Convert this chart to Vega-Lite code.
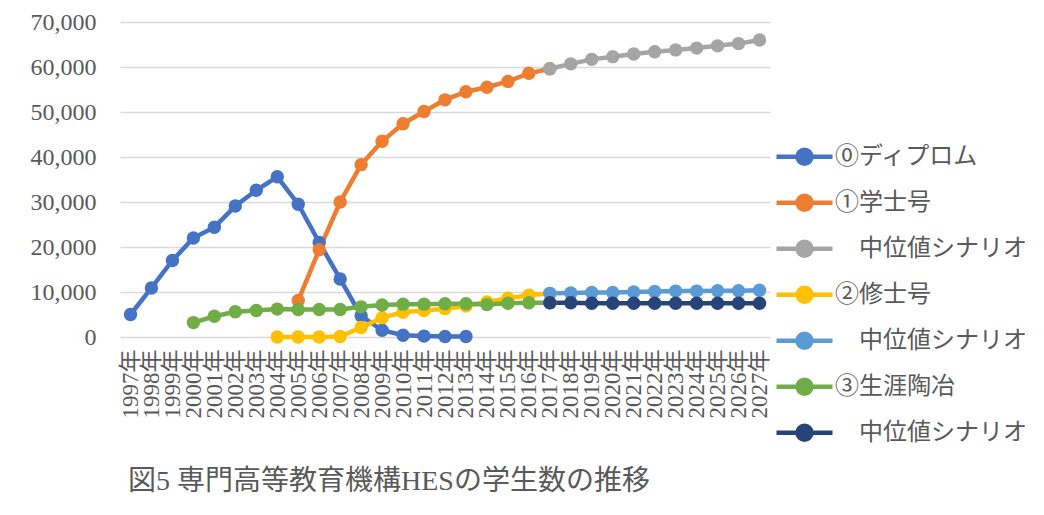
{
  "$schema": "https://vega.github.io/schema/vega-lite/v6.json",
  "autosize": {"type": "none"},
  "width": 650,
  "height": 315,
  "padding": {"left": 120, "top": 22, "right": 274, "bottom": 178},
  "background": "white",
  "title": {
    "text": "図5 専門高等教育機構HESの学生数の推移",
    "orient": "bottom",
    "anchor": "start",
    "frame": "group",
    "dx": 8,
    "offset": 12,
    "fontSize": 28,
    "fontWeight": "normal",
    "font": "Liberation Serif, Noto Sans CJK JP",
    "color": "#595959"
  },
  "config": {
    "view": {"stroke": null},
    "font": "Liberation Serif, Noto Sans CJK JP"
  },
  "data": {
    "values": [
      {"series": "s0", "year": 1997, "value": 5000},
      {"series": "s0", "year": 1998, "value": 10900},
      {"series": "s0", "year": 1999, "value": 17000},
      {"series": "s0", "year": 2000, "value": 22000},
      {"series": "s0", "year": 2001, "value": 24400},
      {"series": "s0", "year": 2002, "value": 29100},
      {"series": "s0", "year": 2003, "value": 32600},
      {"series": "s0", "year": 2004, "value": 35600},
      {"series": "s0", "year": 2005, "value": 29500},
      {"series": "s0", "year": 2006, "value": 21000},
      {"series": "s0", "year": 2007, "value": 12900},
      {"series": "s0", "year": 2008, "value": 4700},
      {"series": "s0", "year": 2009, "value": 1500},
      {"series": "s0", "year": 2010, "value": 400},
      {"series": "s0", "year": 2011, "value": 200},
      {"series": "s0", "year": 2012, "value": 100},
      {"series": "s0", "year": 2013, "value": 100},
      {"series": "s1", "year": 2005, "value": 8100},
      {"series": "s1", "year": 2006, "value": 19400},
      {"series": "s1", "year": 2007, "value": 30000},
      {"series": "s1", "year": 2008, "value": 38300},
      {"series": "s1", "year": 2009, "value": 43500},
      {"series": "s1", "year": 2010, "value": 47400},
      {"series": "s1", "year": 2011, "value": 50100},
      {"series": "s1", "year": 2012, "value": 52700},
      {"series": "s1", "year": 2013, "value": 54500},
      {"series": "s1", "year": 2014, "value": 55500},
      {"series": "s1", "year": 2015, "value": 56800},
      {"series": "s1", "year": 2016, "value": 58600},
      {"series": "s1", "year": 2017, "value": 59600},
      {"series": "s2", "year": 2017, "value": 59600},
      {"series": "s2", "year": 2018, "value": 60700},
      {"series": "s2", "year": 2019, "value": 61700},
      {"series": "s2", "year": 2020, "value": 62300},
      {"series": "s2", "year": 2021, "value": 62900},
      {"series": "s2", "year": 2022, "value": 63400},
      {"series": "s2", "year": 2023, "value": 63800},
      {"series": "s2", "year": 2024, "value": 64200},
      {"series": "s2", "year": 2025, "value": 64700},
      {"series": "s2", "year": 2026, "value": 65200},
      {"series": "s2", "year": 2027, "value": 66000},
      {"series": "s3", "year": 2004, "value": 0},
      {"series": "s3", "year": 2005, "value": 0},
      {"series": "s3", "year": 2006, "value": 0},
      {"series": "s3", "year": 2007, "value": 100},
      {"series": "s3", "year": 2008, "value": 2100},
      {"series": "s3", "year": 2009, "value": 4300},
      {"series": "s3", "year": 2010, "value": 5500},
      {"series": "s3", "year": 2011, "value": 5900},
      {"series": "s3", "year": 2012, "value": 6300},
      {"series": "s3", "year": 2013, "value": 6900},
      {"series": "s3", "year": 2014, "value": 7800},
      {"series": "s3", "year": 2015, "value": 8600},
      {"series": "s3", "year": 2016, "value": 9300},
      {"series": "s3", "year": 2017, "value": 9700},
      {"series": "s4", "year": 2017, "value": 9700},
      {"series": "s4", "year": 2018, "value": 9800},
      {"series": "s4", "year": 2019, "value": 9900},
      {"series": "s4", "year": 2020, "value": 9900},
      {"series": "s4", "year": 2021, "value": 10000},
      {"series": "s4", "year": 2022, "value": 10100},
      {"series": "s4", "year": 2023, "value": 10200},
      {"series": "s4", "year": 2024, "value": 10200},
      {"series": "s4", "year": 2025, "value": 10300},
      {"series": "s4", "year": 2026, "value": 10300},
      {"series": "s4", "year": 2027, "value": 10400},
      {"series": "s5", "year": 2000, "value": 3200},
      {"series": "s5", "year": 2001, "value": 4600},
      {"series": "s5", "year": 2002, "value": 5600},
      {"series": "s5", "year": 2003, "value": 5900},
      {"series": "s5", "year": 2004, "value": 6200},
      {"series": "s5", "year": 2005, "value": 6100},
      {"series": "s5", "year": 2006, "value": 6100},
      {"series": "s5", "year": 2007, "value": 6100},
      {"series": "s5", "year": 2008, "value": 6700},
      {"series": "s5", "year": 2009, "value": 7100},
      {"series": "s5", "year": 2010, "value": 7300},
      {"series": "s5", "year": 2011, "value": 7300},
      {"series": "s5", "year": 2012, "value": 7400},
      {"series": "s5", "year": 2013, "value": 7400},
      {"series": "s5", "year": 2014, "value": 7200},
      {"series": "s5", "year": 2015, "value": 7500},
      {"series": "s5", "year": 2016, "value": 7600},
      {"series": "s5", "year": 2017, "value": 7600},
      {"series": "s6", "year": 2017, "value": 7600},
      {"series": "s6", "year": 2018, "value": 7600},
      {"series": "s6", "year": 2019, "value": 7500},
      {"series": "s6", "year": 2020, "value": 7500},
      {"series": "s6", "year": 2021, "value": 7500},
      {"series": "s6", "year": 2022, "value": 7500},
      {"series": "s6", "year": 2023, "value": 7500},
      {"series": "s6", "year": 2024, "value": 7500},
      {"series": "s6", "year": 2025, "value": 7500},
      {"series": "s6", "year": 2026, "value": 7500},
      {"series": "s6", "year": 2027, "value": 7500}
    ]
  },
  "mark": {"type": "line", "strokeWidth": 4.5, "point": {"size": 180, "filled": true, "opacity": 1}},
  "encoding": {
    "x": {
      "field": "year",
      "type": "ordinal",
      "scale": {"type": "point", "padding": 0.5, "domain": [1997,1998,1999,2000,2001,2002,2003,2004,2005,2006,2007,2008,2009,2010,2011,2012,2013,2014,2015,2016,2017,2018,2019,2020,2021,2022,2023,2024,2025,2026,2027]},
      "axis": {
        "title": null,
        "domain": false,
        "ticks": false,
        "labelAngle": 270,
        "labelAlign": "right",
        "labelBaseline": "middle",
        "labelPadding": 12,
        "labelFontSize": 23,
        "labelColor": "#595959",
        "labelOverlap": false,
        "labelExpr": "datum.label + '年'"
      }
    },
    "y": {
      "field": "value",
      "type": "quantitative",
      "scale": {"domain": [0, 70000], "nice": false},
      "axis": {
        "title": null,
        "domain": false,
        "ticks": false,
        "values": [0, 10000, 20000, 30000, 40000, 50000, 60000, 70000],
        "format": ",d",
        "labelPadding": 24,
        "labelFontSize": 24,
        "labelColor": "#595959",
        "gridColor": "#d9d9d9",
        "gridWidth": 1.5
      }
    },
    "color": {
      "field": "series",
      "type": "nominal",
      "scale": {
        "domain": ["s0", "s1", "s2", "s3", "s4", "s5", "s6"],
        "range": ["#4472C4", "#ED7D31", "#A5A5A5", "#FFC000", "#5B9BD5", "#70AD47", "#264478"]
      },
      "legend": {
        "title": null,
        "orient": "none",
        "legendX": 654,
        "legendY": 112,
        "symbolType": "M-1,0L1,0M-0.25,0A0.25,0.25,0,1,0,0.25,0A0.25,0.25,0,1,0,-0.25,0Z",
        "symbolSize": 3136,
        "symbolStrokeWidth": 4.5,
        "symbolOpacity": 1,
        "clipHeight": 45.5,
        "rowPadding": 0,
        "labelOffset": 0,
        "labelFontSize": 24,
        "labelColor": "#595959",
        "labelLimit": 300,
        "labelExpr": "datum.value == 's0' ? '⓪ディプロム' : datum.value == 's1' ? '①学士号' : datum.value == 's3' ? '②修士号' : datum.value == 's5' ? '③生涯陶冶' : '\u200b\u3000中位値シナリオ'"
      }
    }
  }
}
